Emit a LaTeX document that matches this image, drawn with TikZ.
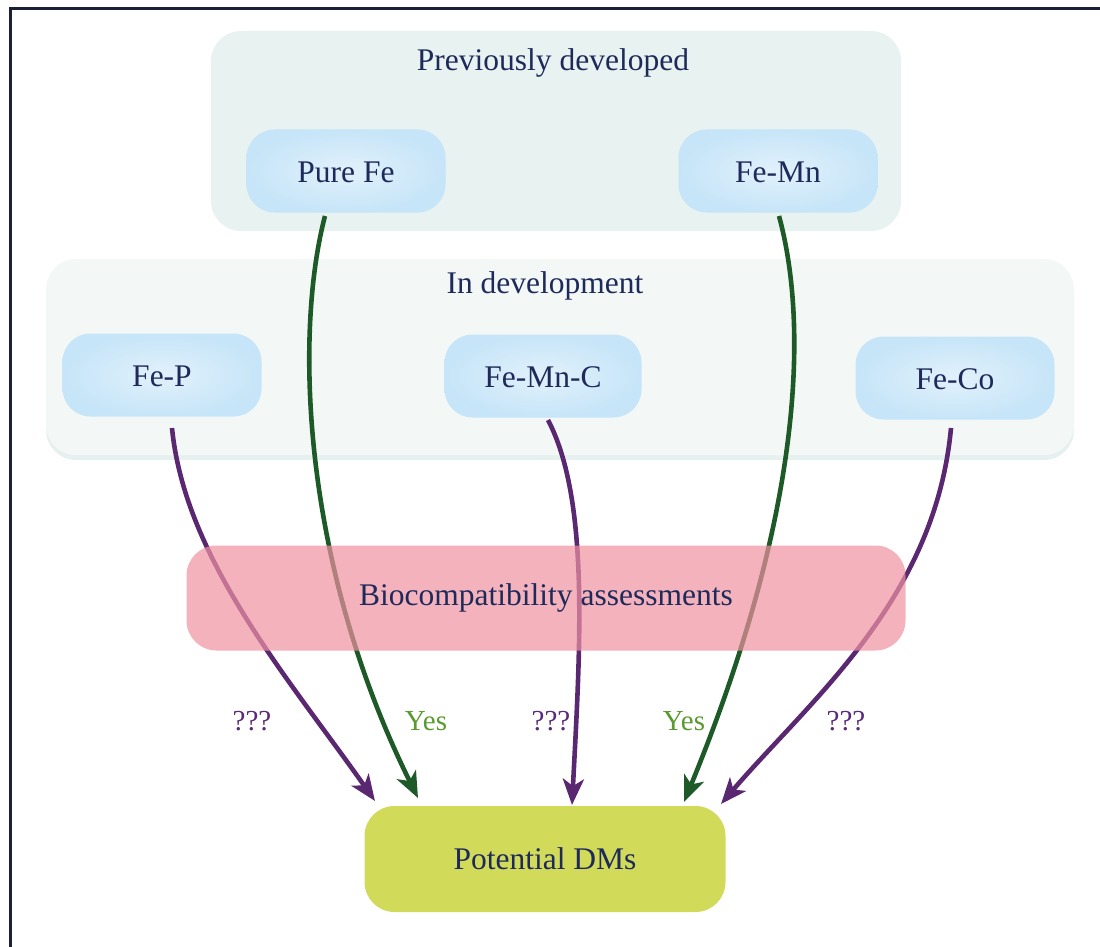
\documentclass[tikz,border=0pt]{standalone}
\usepackage{fontspec}
\setmainfont{Liberation Serif}
\usetikzlibrary{arrows.meta,shadings}
\definecolor{navy}{HTML}{1E2A5A}
\definecolor{framec}{HTML}{1A2035}
\definecolor{grpA}{HTML}{E8F2F0}
\definecolor{grpB}{HTML}{F3F8F7}
\definecolor{grpBedge}{HTML}{E6F0EE}
\definecolor{blueout}{HTML}{C6E5F8}
\definecolor{bluein}{HTML}{E2F1FB}
\definecolor{pinkc}{RGB}{239,146,161}
\definecolor{limec}{HTML}{D2DA5A}
\definecolor{greenarr}{HTML}{1E5A28}
\definecolor{purparr}{HTML}{5A2870}
\definecolor{yesc}{HTML}{5A9A30}
\definecolor{qc}{HTML}{5A2A78}
\tikzset{
  txt/.style={font=\fontsize{31.5}{36}\selectfont, text=navy},
  grp/.style={rounded corners=30pt, inner sep=0pt},
  alloy/.style={txt, rounded corners=28pt, inner sep=0pt, minimum width=199pt, minimum height=83pt,
    text depth=0pt, shading=radial, inner color=bluein, outer color=blueout},
  garrow/.style={draw=greenarr, line width=4.6pt, -{Stealth[length=26pt,width=21pt,inset=7pt]}},
  parrow/.style={draw=purparr, line width=4.6pt, -{Stealth[length=26pt,width=21pt,inset=7pt]}},
  lbl/.style={font=\fontsize{29}{34}\selectfont},
}
\newcommand{\dn}[1]{\raisebox{-3pt}{#1}}
\begin{document}
\begin{tikzpicture}[x=1pt,y=-1pt]
\useasboundingbox (0,0) rectangle (1100,947);
% frame
\draw[framec, line width=3pt] (10,947) -- (10,9) -- (1100,9);
% groups
\node[grp, fill=grpA, minimum width=690pt, minimum height=200pt] (prev) at (556,131) {};
\node[txt] (prevt) at (553,63) {Previously developed};
\fill[grpBedge, rounded corners=30pt] (46,261) rectangle (1074,460);
\node[grp, fill=grpB, minimum width=1028pt, minimum height=196pt] (dev) at (560,357) {};
\node[txt] (devt) at (545,286) {In development};
% alloys
\node[alloy] (purefe) at (346,171) {\dn{Pure Fe}};
\node[alloy] (femn) at (778,171) {\dn{Fe-Mn}};
\node[alloy] (fep) at (162,375) {\dn{Fe-P}};
\node[alloy, minimum width=197pt] (femnc) at (543,376) {\dn{Fe-Mn-C}};
\node[alloy] (feco) at (955,378) {\dn{Fe-Co}};
% target
\node[txt, fill=limec, rounded corners=30pt, minimum width=361pt, minimum height=106pt, inner sep=0pt] (dm) at (545,859) {Potential DMs};
% anchor coordinates
\coordinate (s1) at (325,216);
\coordinate (e1) at (418,798);
\coordinate (s2) at (779,216);
\coordinate (e2) at (684,802);
\coordinate (s3) at (172,428);
\coordinate (e3) at (375,801);
\coordinate (s4) at (548,420);
\coordinate (e4) at (572,805);
\coordinate (s5) at (951,428);
\coordinate (e5) at (721,804);
% arrows
\draw[garrow] (s1) .. controls (295,330) and (300,560) .. (e1);
\draw[garrow] (s2) .. controls (810,330) and (800,520) .. (e2);
\draw[parrow] (s3) .. controls (185,560) and (290,680) .. (e3);
\draw[parrow] (s4) .. controls (590,500) and (580,650) .. (e4);
\draw[parrow] (s5) .. controls (935,600) and (810,700) .. (e5);
% biocompatibility box over arrows
\node[txt, fill=pinkc, fill opacity=0.7, text opacity=1, rounded corners=30pt, minimum width=719pt, minimum height=105pt, inner sep=0pt] (bio) at (546,598) {Biocompatibility assessments};
% labels
\node[lbl, text=qc] (q1) at (252,721) {???};
\node[lbl, text=yesc] (y1) at (426,721) {Yes};
\node[lbl, text=qc] (q2) at (551,721) {???};
\node[lbl, text=yesc] (y2) at (684,721) {Yes};
\node[lbl, text=qc] (q3) at (846,721) {???};
\end{tikzpicture}
\end{document}
